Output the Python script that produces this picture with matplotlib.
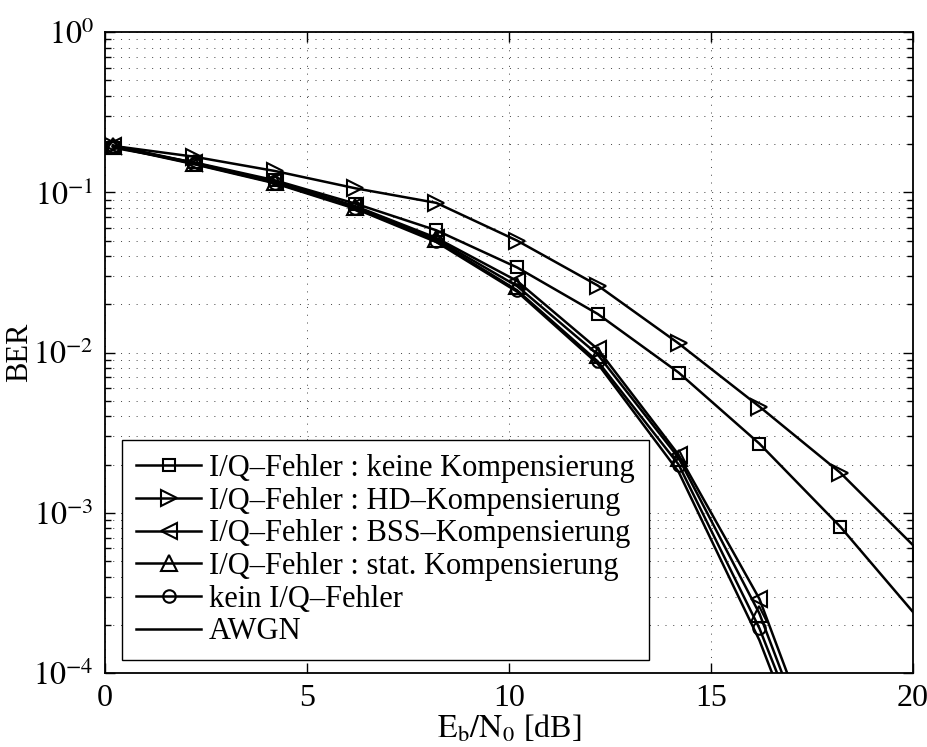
import matplotlib
matplotlib.use('Agg')
import matplotlib.pyplot as plt
import numpy as np
from matplotlib.ticker import LogLocator, FixedLocator, NullFormatter

plt.rcParams['font.family'] = ['Liberation Serif', 'DejaVu Serif']
plt.rcParams['mathtext.fontset'] = 'stix'

# Eb/N0 values [dB]
ebn0_long = [0.2, 2.2, 4.2, 6.2, 8.2, 10.2, 12.2, 14.2, 16.2, 18.2, 20.2]
ebn0 = [0.2, 2.2, 4.2, 6.2, 8.2, 10.2, 12.2, 14.2, 16.2, 18.2]

ber_keine = [0.19, 0.154, 0.119, 0.085, 0.058, 0.034, 0.0174, 0.0075, 0.0027, 8.2e-4, 2.1e-4]
ber_hd = [0.195, 0.167, 0.136, 0.106, 0.086, 0.050, 0.0262, 0.0114, 0.0046, 1.78e-3, 5.6e-4]
ber_bss = [0.196, 0.153, 0.117, 0.082, 0.052, 0.028, 0.0105, 0.0023, 2.9e-4, 1.3e-5]
ber_stat = [0.195, 0.152, 0.116, 0.081, 0.051, 0.026, 0.0097, 0.0022, 2.35e-4, 1.1e-5]
ber_kein = [0.194, 0.151, 0.115, 0.080, 0.050, 0.0245, 0.0088, 0.0020, 1.9e-4, 1.0e-5]
ber_awgn = [0.193, 0.150, 0.114, 0.079, 0.049, 0.024, 0.0085, 0.0018, 1.6e-4, 7.9e-6]

labels = ['I/Q–Fehler : keine Kompensierung',
          'I/Q–Fehler : HD–Kompensierung',
          'I/Q–Fehler : BSS–Kompensierung',
          'I/Q–Fehler : stat. Kompensierung',
          'kein I/Q–Fehler',
          'AWGN']

fig = plt.figure(figsize=(9.28, 7.47), dpi=100)
ax = fig.add_axes([0.1131, 0.099, 0.8707, 0.858])

kw = dict(color='black', lw=1.8, markerfacecolor='none', markeredgewidth=1.5)
ax.semilogy(ebn0_long, ber_keine, marker='s', ms=8.5, label=labels[0], **kw)
ax.semilogy(ebn0_long, ber_hd, marker='>', ms=11, label=labels[1], **kw)
ax.semilogy(ebn0, ber_bss, marker='<', ms=11, label=labels[2], **kw)
ax.semilogy(ebn0, ber_stat, marker='^', ms=11, label=labels[3], **kw)
ax.semilogy(ebn0, ber_kein, marker='o', ms=9, label=labels[4], **kw)
ax.semilogy(ebn0, ber_awgn, label=labels[5], color='black', lw=1.8)

ax.set_xlim(0, 20)
ax.set_ylim(1e-4, 1)
ax.xaxis.set_major_locator(FixedLocator([0, 5, 10, 15, 20]))
ax.yaxis.set_minor_locator(LogLocator(base=10, subs=np.arange(2, 10), numticks=20))
ax.yaxis.set_minor_formatter(NullFormatter())
ax.set_yticks([1e-4, 1e-3, 1e-2, 1e-1, 1])
ax.set_yticklabels([r'$10^{-4}$', r'$10^{-3}$', r'$10^{-2}$', r'$10^{-1}$', r'$10^{0}$'])

grid_style = dict(color='0.25', linestyle=(0, (1, 7)), linewidth=0.7)
ax.grid(True, which='major', axis='both', **grid_style)
ax.grid(True, which='minor', axis='y', **grid_style)

ax.tick_params(which='both', direction='in', top=True, right=True, width=1.0)
ax.tick_params(which='major', length=7)
ax.tick_params(which='minor', length=4)
ax.tick_params(axis='x', pad=8, labelsize=23)
ax.tick_params(axis='y', pad=8, labelsize=23)
for sp in ax.spines.values():
    sp.set_linewidth(1.3)

ax.set_xlabel(r'$\mathrm{E_b/N_0}$ [dB]', fontsize=23, labelpad=0)
ax.set_ylabel('BER', fontsize=22)
ax.yaxis.set_label_coords(-0.088, 0.5)

leg = ax.legend(loc='lower left', bbox_to_anchor=(0.021, 0.02), fontsize=22,
                frameon=True, fancybox=False, edgecolor='black', framealpha=1,
                handlelength=2.15, handletextpad=0.25, labelspacing=0.12,
                borderpad=0.45, borderaxespad=0)
leg.get_frame().set_linewidth(1.0)

fig.savefig('out.png', dpi=100)
